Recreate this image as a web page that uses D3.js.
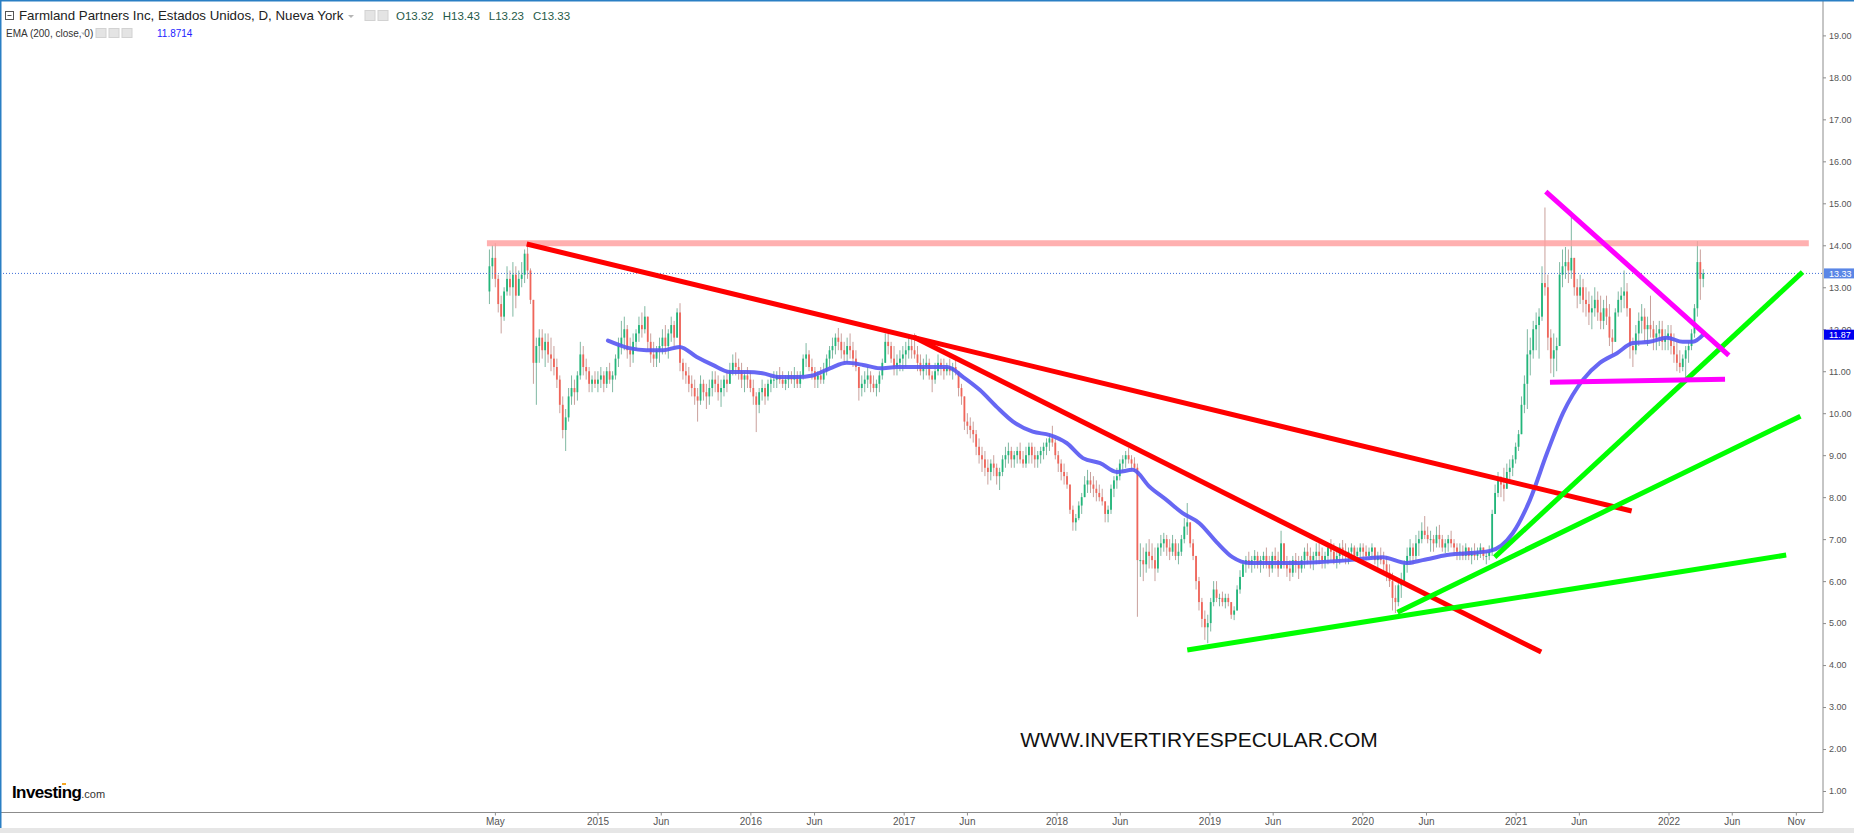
<!DOCTYPE html>
<html>
<head>
<meta charset="utf-8">
<script src="https://cdn.jsdelivr.net/npm/d3@7"></script>
<style>
  html, body { margin: 0; padding: 0; background: #fff; }
  svg { display: block; font-family: Arial, "Liberation Sans", sans-serif; }
  .narrow { font-family: "Liberation Sans Narrow", "Arial Narrow", sans-serif; }
</style>
</head>
<body>
<div id="chart"></div>
<script>
// FPI weekly candles (one entry per Friday)
const firstOpen = 12.9;
const hi2014 = [13.9,14.0,14.05,13.3,12.8,13.0,13.5,13.4,13.6,13.5,13.4,13.6,13.9,14.05,13.45,12.7,11.8,12.0,12.0,11.9,11.9,11.8,11.6,11.3,10.9,10.4,10.1,10.6,10.9,10.8,11.0,11.7,11.6,11.3,11.1,10.9,11.0];
const lo2014 = [12.6,13.2,13.0,12.4,11.9,12.2,12.8,12.8,12.3,12.5,12.9,13.0,13.1,13.2,12.6,10.7,10.2,11.2,11.3,11.1,11.2,11.0,10.9,10.6,10.0,9.4,9.1,9.8,10.2,10.2,10.3,10.8,10.9,10.8,10.5,10.5,10.6];
const cl2014 = [13.5,13.7,13.2,12.6,12.3,12.9,13.2,13.0,13.3,12.8,13.2,13.3,13.8,13.4,12.7,11.2,11.6,11.8,11.5,11.7,11.4,11.3,11.1,10.8,10.2,9.6,9.9,10.4,10.6,10.5,10.9,11.4,11.1,11.0,10.7,10.8,10.7];

const hi2015 = [11.0,11.1,11.0,11.1,11.2,11.0,11.4,11.8,12.2,12.3,12.1,11.8,11.9,12.0,12.3,12.4,12.55,12.3,11.9,11.7,11.6,11.8,12.0,12.1,12.0,12.3,12.2,12.5,12.62,11.3,11.2,11.1,10.9,10.8,10.6,10.9,10.8,10.7,10.8,11.0,11.0,10.9,10.8,10.9,11.0,11.2,11.4,11.45,11.3,11.2,11.0,11.1];
const lo2015 = [10.5,10.6,10.5,10.6,10.7,10.5,10.8,11.1,11.4,11.5,11.3,11.1,11.2,11.5,11.7,11.8,11.9,11.5,11.2,11.1,11.1,11.2,11.4,11.4,11.3,11.7,11.6,11.8,11.0,10.8,10.7,10.5,10.4,10.2,9.8,10.2,10.3,10.1,10.2,10.4,10.5,10.3,10.15,10.4,10.5,10.7,10.9,10.9,10.8,10.6,10.5,10.6];
const cl2015 = [10.8,10.9,10.7,11.0,10.8,10.9,11.3,11.6,11.8,12.0,11.5,11.4,11.7,11.9,12.1,12.0,12.3,11.7,11.4,11.3,11.5,11.6,11.8,11.6,11.9,12.1,11.8,12.4,11.2,11.0,10.9,10.7,10.6,10.4,10.3,10.7,10.5,10.4,10.6,10.8,10.7,10.5,10.6,10.8,10.7,11.0,11.2,11.1,11.0,10.8,10.9,10.8];

const hi2016 = [11.0,10.8,10.5,10.6,10.8,10.7,10.8,10.9,11.0,11.0,11.1,11.0,10.9,11.0,11.0,11.1,11.0,11.0,11.4,11.67,11.5,11.3,11.1,11.0,11.1,11.2,11.4,11.6,11.8,11.9,12.03,11.9,11.7,11.8,11.9,11.7,11.5,11.1,10.9,11.0,11.1,11.0,10.9,10.8,11.0,11.3,11.9,11.9,11.7,11.6,11.4,11.5,11.6];
const lo2016 = [10.5,10.2,9.55,10.0,10.3,10.2,10.3,10.5,10.6,10.6,10.7,10.6,10.55,10.6,10.7,10.6,10.6,10.6,10.8,11.1,11.0,10.8,10.6,10.6,10.7,10.7,10.9,11.1,11.3,11.4,11.5,11.3,11.2,11.2,11.3,11.1,11.0,10.3,10.4,10.5,10.6,10.5,10.5,10.4,10.5,10.8,11.2,11.4,11.2,10.9,10.9,11.0,11.0];
const cl2016 = [10.6,10.4,10.2,10.5,10.6,10.4,10.7,10.8,10.8,10.9,10.8,10.7,10.8,10.9,10.8,10.9,10.7,10.9,11.3,11.4,11.1,11.0,10.8,10.9,10.8,11.0,11.3,11.5,11.6,11.8,11.7,11.5,11.4,11.6,11.5,11.3,11.1,10.6,10.7,10.8,10.9,10.7,10.6,10.7,10.9,11.2,11.7,11.6,11.3,11.1,11.2,11.3,11.4];

const hi2017 = [11.7,11.8,11.85,11.9,11.6,11.4,11.3,11.4,11.3,11.0,11.2,11.4,11.3,11.3,11.2,11.3,11.2,11.3,11.0,10.7,10.2,10.0,9.9,9.8,9.6,9.4,9.2,9.1,8.9,8.9,9.0,8.8,8.7,9.0,9.2,9.3,9.2,9.1,9.2,9.3,9.1,9.2,9.3,9.3,9.2,9.1,9.2,9.3,9.4,9.5,9.7,9.4];
const lo2017 = [11.1,11.3,11.3,11.3,11.0,10.9,10.8,10.9,10.8,10.5,10.7,10.9,10.9,10.8,10.9,10.9,10.8,10.9,10.4,10.2,9.6,9.5,9.4,9.3,9.0,8.8,8.6,8.5,8.3,8.4,8.5,8.3,8.17,8.5,8.7,8.8,8.7,8.7,8.8,8.8,8.7,8.7,8.8,8.8,8.7,8.7,8.8,8.9,9.0,9.1,9.2,8.9];
const cl2017 = [11.5,11.6,11.5,11.4,11.2,11.0,11.1,11.2,10.9,10.8,11.0,11.2,11.1,11.0,11.1,11.0,11.1,11.0,10.6,10.4,9.8,9.7,9.6,9.5,9.2,9.0,8.9,8.7,8.6,8.8,8.7,8.5,8.6,8.9,9.0,9.1,8.9,9.0,9.1,8.9,8.8,9.0,9.2,9.0,8.9,9.0,9.1,9.2,9.3,9.4,9.3,9.0];

const hi2018 = [9.1,8.9,8.8,8.6,8.3,7.8,7.6,7.9,8.1,8.5,8.65,8.6,8.5,8.4,8.3,8.2,7.9,7.8,8.3,8.5,8.7,8.9,9.0,9.1,9.17,9.0,8.95,8.8,6.9,6.8,6.9,7.0,6.9,6.8,6.9,7.1,7.15,7.1,7.0,7.1,7.0,6.9,7.1,7.5,7.86,7.4,7.0,6.6,6.1,5.6,5.3,5.2];
const lo2018 = [8.6,8.4,8.3,8.2,7.6,7.2,7.2,7.45,7.6,8.0,8.1,8.1,8.0,7.9,7.9,7.8,7.4,7.4,7.6,8.0,8.2,8.4,8.6,8.7,8.8,8.65,8.6,5.15,6.1,6.0,6.2,6.3,6.3,6.0,6.2,6.6,6.7,6.6,6.5,6.6,6.5,6.4,6.6,6.9,7.1,6.8,6.5,5.8,5.3,4.9,4.6,4.52];
const cl2018 = [8.8,8.6,8.5,8.3,7.7,7.4,7.5,7.8,8.0,8.3,8.4,8.3,8.2,8.1,8.0,7.9,7.6,7.7,8.2,8.4,8.5,8.8,8.9,9.0,8.9,8.8,8.7,6.5,6.5,6.4,6.7,6.6,6.5,6.3,6.8,6.9,7.0,6.8,6.7,6.9,6.6,6.7,7.0,7.3,7.4,6.9,6.6,6.0,5.5,5.1,4.9,5.0];

const hi2019 = [5.6,6.0,6.0,5.7,5.75,5.7,5.7,5.5,5.4,5.9,6.26,6.5,6.6,6.7,6.6,6.74,6.7,6.6,6.7,6.8,6.6,6.7,6.8,6.7,7.2,6.9,6.6,6.5,6.6,6.67,6.6,6.6,6.8,6.9,6.8,6.7,6.9,6.95,6.8,6.7,6.9,7.0,6.9,6.8,6.9,6.98,6.9,6.8,6.9,6.85,6.8,6.9];
const lo2019 = [4.8,5.4,5.5,5.4,5.4,5.35,5.4,5.1,5.07,5.3,5.7,6.1,6.2,6.3,6.2,6.3,6.3,6.2,6.3,6.3,6.1,6.2,6.3,6.1,6.3,6.3,6.1,6.0,6.1,6.2,6.05,6.2,6.3,6.4,6.3,6.26,6.4,6.4,6.3,6.3,6.4,6.5,6.4,6.3,6.4,6.5,6.4,6.4,6.5,6.5,6.5,6.55];
const cl2019 = [5.5,5.8,5.6,5.6,5.5,5.6,5.5,5.2,5.3,5.8,6.1,6.4,6.5,6.4,6.5,6.6,6.4,6.5,6.6,6.4,6.3,6.6,6.5,6.3,6.9,6.4,6.3,6.2,6.5,6.4,6.3,6.5,6.7,6.6,6.5,6.6,6.7,6.6,6.5,6.6,6.8,6.7,6.5,6.6,6.8,6.7,6.6,6.7,6.8,6.6,6.7,6.8];

const hi2020 = [6.9,6.85,6.8,6.9,6.8,6.7,6.8,6.7,6.6,6.4,6.2,5.9,6.0,6.2,6.5,6.8,7.0,6.9,7.1,7.2,7.4,7.55,7.3,7.2,7.1,7.3,7.34,7.1,7.0,7.1,7.2,7.0,6.9,6.9,6.85,6.9,6.8,6.8,6.9,6.8,6.9,6.8,6.7,6.85,7.7,8.3,8.6,8.5,8.7,8.8,8.9,9.0];
const lo2020 = [6.5,6.5,6.5,6.55,6.4,6.3,6.4,6.2,6.0,5.86,5.3,5.24,5.4,5.6,5.9,6.2,6.4,6.4,6.5,6.6,6.9,7.0,6.9,6.7,6.7,6.8,6.8,6.7,6.67,6.7,6.8,6.6,6.5,6.5,6.5,6.5,6.5,6.4,6.5,6.5,6.55,6.5,6.4,6.5,6.6,7.6,8.0,8.0,7.9,8.3,8.4,8.5];
const cl2020 = [6.7,6.6,6.7,6.8,6.5,6.6,6.5,6.4,6.2,6.0,5.6,5.5,5.9,6.0,6.4,6.6,6.8,6.6,6.9,7.0,7.2,7.1,7.0,7.0,6.9,7.1,7.0,6.8,6.9,7.0,6.9,6.8,6.7,6.7,6.6,6.8,6.6,6.7,6.6,6.7,6.8,6.6,6.6,6.7,7.6,8.1,8.4,8.3,8.2,8.6,8.7,8.9];

const hi2021 = [9.3,9.6,10.4,10.9,12.0,11.8,12.2,12.4,12.5,13.5,14.9,13.3,12.0,11.9,11.8,13.6,13.9,13.96,13.9,14.8,13.6,13.2,13.3,13.2,13.0,12.9,12.8,13.0,12.9,12.8,12.7,12.8,12.6,12.0,12.5,12.9,13.0,13.4,13.1,12.4,11.8,12.1,12.4,12.6,12.5,12.3,12.8,12.2,12.1,12.2,12.2,12.0,12.1];
const lo2021 = [8.8,9.1,9.5,10.0,10.1,10.9,11.3,11.5,11.3,12.2,12.8,11.5,10.95,10.86,11.0,11.6,13.0,13.2,13.1,13.2,12.8,12.5,12.6,12.4,12.3,12.1,12.0,12.3,12.2,12.0,12.0,12.1,11.6,11.4,11.8,12.3,12.4,12.5,12.3,11.3,11.1,11.4,11.6,11.9,11.7,11.6,11.8,11.5,11.5,11.6,11.5,11.5,11.5];
const cl2021 = [9.2,9.5,10.2,10.7,11.4,11.5,12.0,12.1,12.3,13.1,13.0,11.8,11.3,11.5,11.6,13.3,13.5,13.6,13.4,13.7,13.0,12.8,13.0,12.7,12.6,12.4,12.5,12.7,12.4,12.2,12.5,12.3,11.8,11.7,12.4,12.7,12.8,12.9,12.5,11.6,11.5,11.9,12.2,12.3,12.0,12.1,12.0,11.8,11.9,12.0,11.7,11.8,11.9];

const hi2022 = [12.1,11.9,11.7,11.5,11.4,11.6,11.7,12.0,12.6,14.1,13.9,13.43];
const lo2022 = [11.4,11.2,11.0,10.96,11.0,10.85,11.2,11.5,11.8,12.3,12.7,13.0];
const cl2022 = [11.6,11.4,11.2,11.1,11.3,11.5,11.6,11.9,12.5,13.6,13.2,13.33];

// first Friday of each block
const blockStarts = ["2014-04-18","2015-01-02","2016-01-01","2017-01-06","2018-01-05","2019-01-04","2020-01-03","2021-01-01","2022-01-07"];

// EMA(200) as drawn
const emaDates = ["2015-01-26","2015-03-18","2015-04-28","2015-06-06","2015-07-16","2015-08-26","2015-10-03","2015-11-13","2015-12-23",
  "2016-01-30","2016-03-11","2016-04-21","2016-05-29","2016-07-09","2016-08-18","2016-09-26","2016-11-05","2016-12-16",
  "2017-01-23","2017-03-05","2017-04-15","2017-05-23","2017-07-02","2017-08-11","2017-09-19","2017-11-05","2017-12-16",
  "2018-01-25","2018-03-05","2018-04-15","2018-05-25","2018-07-02","2018-08-11","2018-09-21","2018-10-29","2018-12-08",
  "2019-01-18","2019-02-25","2019-04-07","2019-06-24","2019-09-14","2019-12-01","2020-02-18","2020-04-16","2020-05-24",
  "2020-07-21","2020-11-01","2020-12-25","2021-02-04","2021-03-17","2021-04-24","2021-06-11","2021-07-21","2021-08-31",
  "2021-10-08","2021-11-17","2021-12-28","2022-02-04","2022-02-28","2022-03-25"];
const emaValues = [11.73,11.55,11.5,11.5,11.58,11.34,11.15,10.98,10.98,
  10.95,10.86,10.86,10.9,11.07,11.2,11.15,11.07,11.1,
  11.1,11.1,11.1,10.86,10.55,10.15,9.8,9.56,9.48,
  9.29,8.93,8.81,8.6,8.65,8.25,7.93,7.62,7.38,
  6.93,6.57,6.43,6.43,6.45,6.5,6.57,6.43,6.5,
  6.62,6.72,7.14,7.93,9.05,10.0,10.8,11.2,11.43,
  11.67,11.7,11.8,11.7,11.7,11.87];

// drawn trend lines: [date, price] end points
const resistanceLine = [["2014-04-12", 14.05], ["2022-12-02", 14.05]];
const redLines = [
  [["2014-07-16", 14.03], ["2021-10-05", 7.67]],
  [["2017-01-26", 11.81], ["2021-03-03", 4.31]]
];
const greenLines = [
  [["2018-11-09", 4.36], ["2022-10-09", 6.62]],
  [["2020-03-25", 5.26], ["2022-11-12", 9.93]],
  [["2020-11-12", 6.57], ["2022-11-17", 13.36]]
];
const magentaLines = [
  [["2021-03-14", 15.28], ["2022-05-25", 11.38]],
  [["2021-03-24", 10.74], ["2022-05-16", 10.81]]
];

const priceTicks = d3.range(1, 20);
const timeTicks = ["2014-05-01","2015-01-01","2015-06-01","2016-01-01","2016-06-01","2017-01-01","2017-06-01",
  "2018-01-01","2018-06-01","2019-01-01","2019-06-01","2020-01-01","2020-06-01","2021-01-01","2021-06-01",
  "2022-01-01","2022-06-01","2022-11-01"];
const ohlcLast = [["O", "13.32"], ["H", "13.43"], ["L", "13.23"], ["C", "13.33"]];
const lastClose = 13.33, lastEma = 11.87, emaReading = "11.8714";

// ---------------------------------------------------------------
const W = 1854, H = 833;
const plotRight = 1823, plotBottom = 812.5;
const parse = d3.timeParse("%Y-%m-%d");

const svg = d3.select("#chart").append("svg").attr("width", W).attr("height", H);
svg.append("rect").attr("width", W).attr("height", H).attr("fill", "#fff");

const x = d3.scaleTime()
  .domain([new Date(2015, 0, 1), new Date(2022, 0, 1)])
  .range([597.5, 1668.5]);
const y = d3.scaleLinear().domain([1, 19]).range([791, 35.4]);

svg.append("defs").append("clipPath").attr("id", "plot")
  .append("rect").attr("x", 0).attr("y", 0).attr("width", plotRight).attr("height", plotBottom);
const plot = svg.append("g").attr("clip-path", "url(#plot)");

// candles
const blocks = [
  [hi2014, lo2014, cl2014], [hi2015, lo2015, cl2015], [hi2016, lo2016, cl2016],
  [hi2017, lo2017, cl2017], [hi2018, lo2018, cl2018], [hi2019, lo2019, cl2019],
  [hi2020, lo2020, cl2020], [hi2021, lo2021, cl2021], [hi2022, lo2022, cl2022]
];
const candles = [];
let prev = firstOpen;
blocks.forEach(([hi, lo, cl], b) => {
  const start = parse(blockStarts[b]);
  cl.forEach((c, i) => {
    candles.push({ date: d3.timeDay.offset(start, 7 * i), o: prev, h: hi[i], l: lo[i], c });
    prev = c;
  });
});

const upCol = "#22b67a", downCol = "#f0655a";
plot.append("g").selectAll("line").data(candles).join("line")
  .attr("x1", d => x(d.date)).attr("x2", d => x(d.date))
  .attr("y1", d => y(Math.max(d.h, d.o, d.c))).attr("y2", d => y(Math.min(d.l, d.o, d.c)))
  .attr("stroke", d => d.c >= d.o ? "#7fb8a2" : "#c9a09c").attr("stroke-width", 1);
plot.append("g").selectAll("rect").data(candles).join("rect")
  .attr("x", d => x(d.date) - 0.9).attr("width", 1.8)
  .attr("y", d => y(Math.max(d.o, d.c)))
  .attr("height", d => Math.max(1, Math.abs(y(d.o) - y(d.c))))
  .attr("fill", d => d.c >= d.o ? upCol : downCol);

// EMA
const ema = emaDates.map((d, i) => ({ date: parse(d), v: emaValues[i] }));
plot.append("path").datum(ema)
  .attr("fill", "none").attr("stroke", "#5757f2").attr("stroke-opacity", 0.9)
  .attr("stroke-width", 4).attr("stroke-linecap", "round").attr("stroke-linejoin", "round")
  .attr("d", d3.line().curve(d3.curveMonotoneX).x(d => x(d.date)).y(d => y(d.v)));

// last price dotted line
plot.append("line").attr("x1", 0).attr("x2", plotRight)
  .attr("y1", y(lastClose)).attr("y2", y(lastClose))
  .attr("stroke", "#3f6fd9").attr("stroke-width", 1).attr("stroke-dasharray", "1,2");

// trend lines
const seg = d3.line().x(p => x(parse(p[0]))).y(p => y(p[1]));
plot.append("path").datum(resistanceLine).attr("d", seg)
  .attr("stroke", "#ff9c9c").attr("stroke-opacity", 0.8).attr("stroke-width", 6).attr("fill", "none");
const drawLines = (lines, col) => lines.forEach(l =>
  plot.append("path").datum(l).attr("d", seg).attr("fill", "none")
    .attr("stroke", col).attr("stroke-width", 5));
drawLines(redLines, "#ff0000");
drawLines(greenLines, "#00ff00");
drawLines(magentaLines, "#ff00ff");

// axes frame
svg.append("line").attr("x1", plotRight).attr("x2", plotRight).attr("y1", 0).attr("y2", plotBottom)
  .attr("stroke", "#8c8c8c");
svg.append("line").attr("x1", 0).attr("x2", plotRight).attr("y1", plotBottom).attr("y2", plotBottom)
  .attr("stroke", "#8c8c8c");

// right price axis
const yAxis = svg.append("g").attr("transform", `translate(${plotRight},0)`)
  .call(d3.axisRight(y).tickValues(priceTicks).tickFormat(d3.format(".2f")).tickSize(3).tickPadding(3));
yAxis.attr("font-family", null);
yAxis.select(".domain").remove();
yAxis.selectAll("line").attr("stroke", "#8c8c8c");
yAxis.selectAll("text").attr("fill", "#555").style("font-size", "9px");

// bottom time axis
const fmt = d => d.getMonth() === 0 ? d3.timeFormat("%Y")(d) : d3.timeFormat("%b")(d);
const xAxis = svg.append("g").attr("transform", `translate(0,${plotBottom})`)
  .call(d3.axisBottom(x).tickValues(timeTicks.map(parse)).tickFormat(fmt).tickSize(3).tickPadding(2));
xAxis.attr("font-family", null);
xAxis.select(".domain").remove();
xAxis.selectAll("line").attr("stroke", "#8c8c8c");
xAxis.selectAll("text").attr("class", "narrow").attr("fill", "#555").style("font-size", "10px");

// price tags on the axis
const tag = (v, bg) => {
  const g = svg.append("g").attr("transform", `translate(${plotRight + 1},${y(v)})`);
  g.append("rect").attr("x", 0).attr("y", -5).attr("width", 30).attr("height", 10).attr("fill", bg);
  g.append("text").attr("x", 5).attr("y", 3.3).attr("fill", "#fff").style("font-size", "9px")
    .text(v.toFixed(2));
};
tag(lastClose, "#5a86e6");
tag(lastEma, "#0000f0");

// header
const head = svg.append("g");
head.append("rect").attr("x", 5.5).attr("y", 11.5).attr("width", 8).attr("height", 8)
  .attr("fill", "none").attr("stroke", "#555");
head.append("line").attr("x1", 7.5).attr("x2", 11.5).attr("y1", 15.5).attr("y2", 15.5).attr("stroke", "#555");
head.append("text").attr("x", 19).attr("y", 20).attr("fill", "#222").style("font-size", "13.3px")
  .text("Farmland Partners Inc, Estados Unidos, D, Nueva York");
head.append("path").attr("d", "M348,15 h6 l-3,3 z").attr("fill", "#b5b5b5");
[365, 378].forEach(px => head.append("rect").attr("x", px).attr("y", 10.5).attr("width", 10).attr("height", 10)
  .attr("fill", "#e4e4e4").attr("stroke", "#d2d2d2"));
let ox = 396;
ohlcLast.forEach(([k, v]) => {
  const t = head.append("text").attr("x", ox).attr("y", 20).attr("fill", "#1f5a48").style("font-size", "11.5px")
    .text(k + v);
  ox += t.node().getComputedTextLength() + 9;
});
head.append("text").attr("class", "narrow").attr("x", 6).attr("y", 37).attr("fill", "#333").style("font-size", "10px")
  .text("EMA (200, close, 0)");
head.append("path").attr("d", "M81,32.5 h5 l-2.5,2.5 z").attr("fill", "#b5b5b5");
[96, 109, 122].forEach(px => head.append("rect").attr("x", px).attr("y", 28.5).attr("width", 10).attr("height", 9)
  .attr("fill", "#e4e4e4").attr("stroke", "#d2d2d2"));
head.append("text").attr("class", "narrow").attr("x", 157).attr("y", 37).attr("fill", "#2424ff").style("font-size", "10px")
  .text(emaReading);

// watermark + logo
svg.append("text").attr("x", 1199).attr("y", 747).attr("text-anchor", "middle")
  .attr("fill", "#111").style("font-size", "21px").text("WWW.INVERTIRYESPECULAR.COM");
const logo = svg.append("text").attr("x", 12).attr("y", 798).attr("fill", "#000");
logo.append("tspan").style("font-size", "17px").style("font-weight", "bold").attr("letter-spacing", "-0.6")
  .text("Investing");
logo.append("tspan").style("font-size", "11px").attr("fill", "#333").text(".com");
svg.append("rect").attr("x", 62).attr("y", 783).attr("width", 4).attr("height", 2).attr("fill", "#f5a623");

// chrome
svg.append("rect").attr("x", 0).attr("y", 828).attr("width", W).attr("height", 5).attr("fill", "#e6e6e6");
svg.append("line").attr("x1", 0).attr("x2", W).attr("y1", 0.75).attr("y2", 0.75)
  .attr("stroke", "#2a7fc4").attr("stroke-width", 1.5);
svg.append("line").attr("x1", 0.75).attr("x2", 0.75).attr("y1", 0).attr("y2", 828)
  .attr("stroke", "#2a7fc4").attr("stroke-width", 1.5);
</script>
</body>
</html>
